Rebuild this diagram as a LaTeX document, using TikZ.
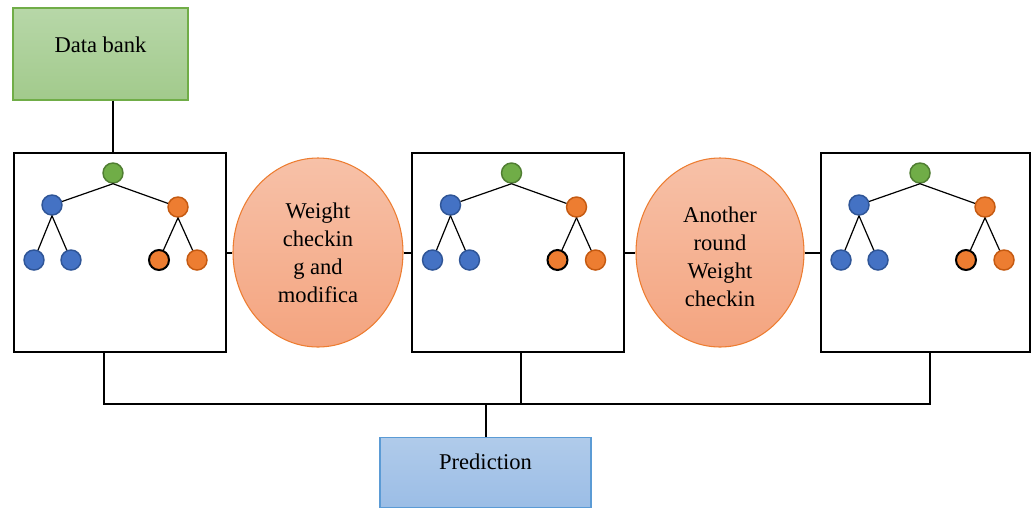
\documentclass[tikz,border=0pt]{standalone}
\usepackage{fontspec}
\setmainfont{Liberation Serif}
\usetikzlibrary{shadings,shapes.geometric}
\definecolor{gfill1}{HTML}{B7D7A8}
\definecolor{gfill2}{HTML}{A2CA8C}
\definecolor{gline}{HTML}{70AD47}
\definecolor{ofill1}{HTML}{F7C1A8}
\definecolor{ofill2}{HTML}{F4A47F}
\definecolor{oline}{HTML}{ED7D31}
\definecolor{bfill1}{HTML}{B0CBEA}
\definecolor{bfill2}{HTML}{9BBDE6}
\definecolor{bline}{HTML}{5B9BD5}
\definecolor{tblue}{HTML}{4472C4}
\definecolor{tblueD}{HTML}{2F5597}
\definecolor{torange}{HTML}{ED7D31}
\definecolor{torangeD}{HTML}{C55A11}
\definecolor{tgreen}{HTML}{70AD47}
\definecolor{tgreenD}{HTML}{507E32}
\tikzset{
  lbl/.style={font=\fontsize{16.9}{21}\selectfont, align=center, inner sep=0pt},
  greenbox/.style={lbl, rectangle, draw=gline, line width=0.8pt, top color=gfill1, bottom color=gfill2},
  bluebox/.style={lbl, rectangle, draw=bline, line width=0.8pt, top color=bfill1, bottom color=bfill2},
  frame/.style={rectangle, draw=black, line width=1.9pt, fill=white, inner sep=0pt},
  weightell/.style={lbl, ellipse, draw=oline, line width=0.8pt, top color=ofill1, bottom color=ofill2},
  wire/.style={draw=black, line width=1.5pt},
  twig/.style={draw=black, line width=0.9pt},
  dot/.style={circle, inner sep=0pt, minimum size=20*0.75pt, line width=1.1pt},
  bdot/.style={dot, fill=tblue, draw=tblueD},
  odot/.style={dot, fill=torange, draw=torangeD},
  gdot/.style={dot, fill=tgreen, draw=tgreenD},
  kdot/.style={dot, fill=torange, draw=black, line width=1.5pt},
}
% one decision tree, shifted horizontally by #2
\newcommand\drawtree[2]{%
  \begin{scope}[shift={(#2,0)}]
    \node[gdot] (#1r) at (113,173) {};
    \node[bdot] (#1a) at (52,205) {};
    \node[odot] (#1b) at (178,207) {};
    \node[bdot] (#1a1) at (34,260) {};
    \node[bdot] (#1a2) at (71,260) {};
    \node[kdot] (#1b1) at (159,260) {};
    \node[odot] (#1b2) at (197,260) {};
    \draw[twig] (#1r.south) -- (#1a);
    \draw[twig] (#1r.south) -- (#1b);
    \draw[twig] (#1a.south) -- (#1a1);
    \draw[twig] (#1a.south) -- (#1a2);
    \draw[twig] (#1b.south) -- (#1b1);
    \draw[twig] (#1b.south) -- (#1b2);
  \end{scope}}
\begin{document}
\begin{tikzpicture}[x=0.75pt, y=-0.75pt]
  \useasboundingbox (0,0) rectangle (1032,508);
  % boxes and ellipses
  \node[greenbox, minimum width=175*0.75pt, minimum height=92*0.75pt] (bank) at (100.5,54)
    {\raisebox{1.5pt}[0pt][0pt]{Data bank}};
  \node[frame, minimum width=212*0.75pt, minimum height=199*0.75pt] (box1) at (120,252.5) {};
  \node[weightell, minimum width=170*0.75pt, minimum height=189*0.75pt] (ell1) at (318,252.5)
    {Weight\\checkin\\g and\\modifica};
  \node[frame, minimum width=212*0.75pt, minimum height=199*0.75pt] (box2) at (518,252.5) {};
  \node[weightell, minimum width=168*0.75pt, minimum height=189*0.75pt] (ell2) at (720,252.5)
    {\rule{0pt}{17.5pt}Another\\round\\Weight\\checkin};
  \node[frame, minimum width=209*0.75pt, minimum height=199*0.75pt] (box3) at (925.5,252.5) {};
  \node[bluebox, minimum width=211*0.75pt, minimum height=70*0.75pt] (pred) at (485.5,472.5)
    {\raisebox{2.6pt}[0pt][0pt]{Prediction}};
  % trees inside the frames
  \drawtree{t}{0}
  \drawtree{u}{398.5}
  \drawtree{v}{807}
  % connectors
  \draw[wire] (tr |- bank.south) -- (tr |- box1.north);
  \draw[wire] (box1.east) -- (ell1.west);
  \draw[wire] (ell1.east) -- (box2.west);
  \draw[wire] (box2.east) -- (ell2.west);
  \draw[wire] (ell2.east) -- (box3.west);
  \coordinate (j1) at (104,404);
  \coordinate (j2) at (521,404);
  \coordinate (j3) at (930,404);
  \draw[wire] (box1.south -| j1) -- (j1) -- (j3) -- (box3.south -| j3);
  \draw[wire] (box2.south -| j2) -- (j2);
  \draw[wire] (pred.north) -- (pred.north |- j1);
\end{tikzpicture}
\end{document}
